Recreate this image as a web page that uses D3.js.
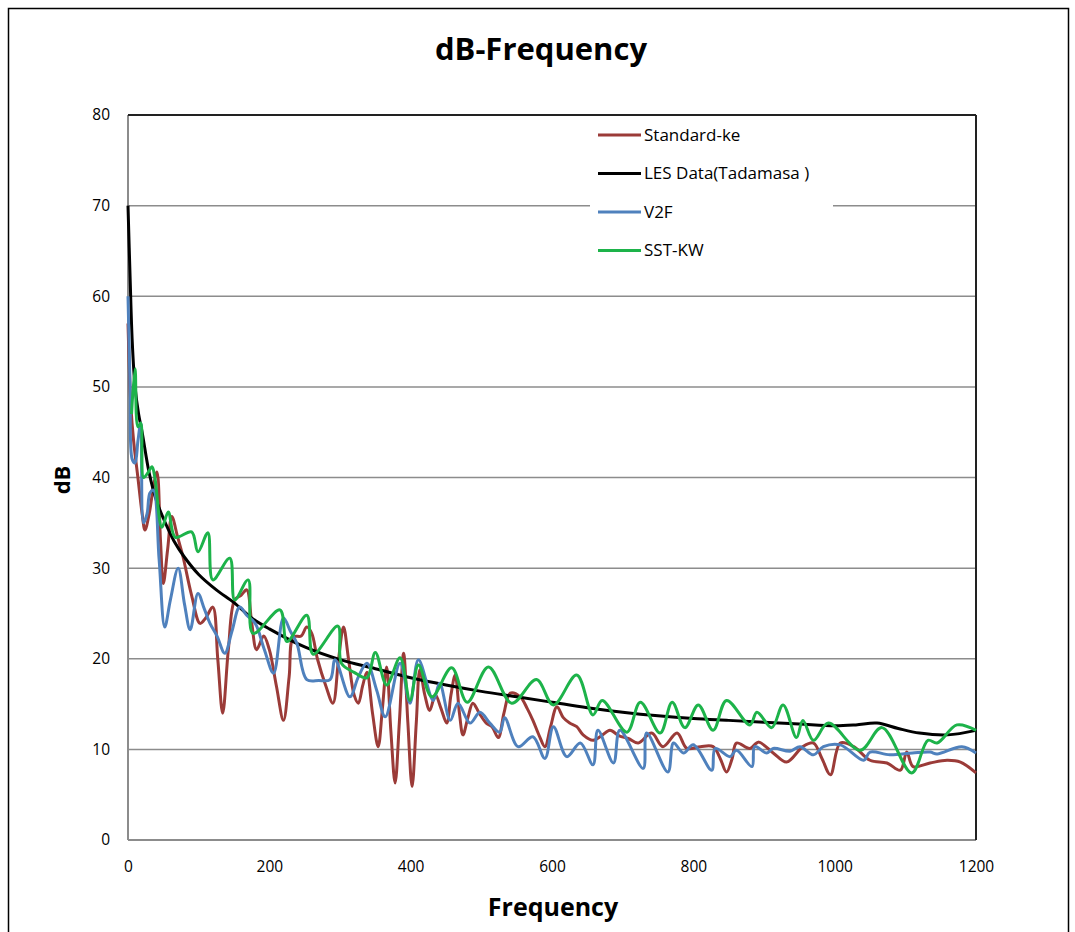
<!DOCTYPE html>
<html>
<head>
<meta charset="utf-8">
<script src="https://d3js.org/d3.v7.min.js"></script>
<style>
    body { margin: 0; background: #fff; }
    svg { display: block; font-family: "Open Sans", sans-serif; }
    .tick text { fill: #000; }
</style>
</head>
<body>
<script>
    // data: [frequency, dB]
    var seriesNames = ["Standard-ke", "LES Data(Tadamasa )", "V2F", "SST-KW"];
    var seriesColors = ["#9b3b38", "#000000", "#4f81bd", "#1db34a"];

    var xTicks = [0, 200, 400, 600, 800, 1000, 1200];
    var yTicks = [0, 10, 20, 30, 40, 50, 60, 70, 80];

    var standardKe = [[0,57],[4,48],[8,44],[14,40],[20,36],[24,34.2],[30,36],[36,39],[41,40.6],[46,33],[50,28.3],[56,32],[62,35.7],[70,33.5],[78,31.2],[90,27],[102,23.9],[110,24.5],[120,25.7],[127,20],[134,14],[142,21],[151,26.5],[160,27],[168,27.6],[175,24],[182,21],[192,22.5],[200,21],[210,17],[220,13.2],[228,18],[234,22.4],[245,22.5],[253,23.5],[260,22.8],[268,20],[280,17],[290,15.1],[298,20],[305,23.5],[312,20],[320,16],[326,15.1],[332,17],[338,18.5],[346,14],[354,10.3],[360,14.5],[366,19.1],[372,12],[378,6.3],[384,13],[390,20.6],[396,13],[402,5.9],[408,13],[413,18.8],[420,16],[427,14.3],[435,16],[443,14.5],[451,12.9],[457,16],[463,18.2],[469,14],[474,11.6],[481,13.5],[488,15.1],[497,14],[507,12.9],[515,12.5],[524,11.3],[532,14],[541,16.2],[555,15.8],[565,14.5],[573,13.2],[582,11.5],[590,10.3],[598,12.5],[607,14.7],[616,13.5],[625,12.9],[635,12.5],[644,11.6],[658,11],[670,11.5],[682,12.1],[695,11.5],[708,11.2],[722,10.7],[741,11.8],[757,10.3],[777,11.8],[791,10.1],[810,10.3],[828,10.3],[838,9],[847,7.5],[855,9],[861,10.7],[880,10.1],[892,10.8],[913,9.6],[932,8.6],[955,10.3],[970,10.7],[982,9],[994,7.2],[1008,10.7],[1027,10.3],[1050,8.8],[1074,8.5],[1093,7.7],[1102,9.7],[1111,8.1],[1135,8.5],[1159,8.8],[1178,8.6],[1200,7.4]];

    var lesData = [[0,70],[3,62],[6,55],[10,50],[15,47],[20,45],[30,40.5],[40,37.5],[50,35.5],[65,33],[80,31.2],[100,29.3],[125,27.6],[150,26.2],[175,24.5],[200,23.3],[250,21.3],[300,19.9],[350,18.9],[400,17.9],[450,17.1],[500,16.4],[550,15.8],[600,15.2],[650,14.6],[700,14.1],[750,13.7],[800,13.4],[850,13.2],[900,13],[950,12.8],[1000,12.6],[1030,12.7],[1060,12.9],[1090,12.3],[1120,11.8],[1160,11.6],[1200,12.1]];

    var v2f = [[0,60],[3,50],[6,42],[10,41.6],[14,44],[18,46],[22,35],[27,36],[31,38.3],[36,38.6],[44,31],[52,23.5],[60,26.5],[71,30],[80,26],[88,23.2],[99,27.2],[108,25.5],[116,23.9],[126,22.5],[137,20.6],[147,23],[158,25.7],[168,24.8],[180,23.9],[193,21],[206,18.4],[220,24.5],[230,23],[239,21.7],[253,17.7],[270,17.6],[286,17.7],[293,19.9],[314,15.8],[326,18],[338,19.5],[352,16.5],[364,13.6],[385,19.5],[399,15.1],[411,19.9],[432,15.4],[441,17.3],[456,13.2],[467,15.1],[484,12.9],[498,14.1],[512,12.9],[526,11.9],[533,13.5],[552,10.3],[573,11.4],[590,9],[602,12.5],[621,9.2],[640,10.7],[658,8.3],[665,12.1],[687,8.5],[696,12.1],[729,7.9],[734,11.8],[764,7.5],[772,10.7],[786,9.6],[800,10.5],[826,7.7],[831,10.1],[852,9.2],[861,9.9],[883,8.1],[887,10.3],[904,9.6],[913,10.1],[937,9.8],[951,10.3],[970,9.4],[984,10.3],[1008,10.5],[1041,8.8],[1050,9.7],[1078,9.4],[1110,9.6],[1135,9.7],[1145,9.5],[1180,10.3],[1200,9.6]];

    var sstKw = [[5,47],[10,52],[14,45.6],[18,46],[22,40],[28,40.5],[34,41.2],[38,40],[48,34.5],[57,36.2],[67,33.4],[90,34],[99,31.8],[113,33.9],[120,28.7],[144,31.1],[151,26.5],[170,28.7],[177,22.8],[215,25.4],[225,21.9],[253,24.8],[262,20.5],[297,23.6],[302,19.5],[320,18.5],[338,17.9],[350,20.7],[366,17.1],[385,20.1],[399,15.4],[411,19.3],[430,15.8],[458,19],[480,15.2],[510,19.1],[543,15.1],[578,17.7],[602,14.9],[635,18.2],[658,13.8],[671,15.4],[706,11.9],[725,15.2],[753,11.8],[770,15.2],[788,12.4],[807,14.9],[828,12.1],[847,15.4],[880,12.7],[890,14.1],[911,12.4],[927,14.9],[946,11.3],[955,13.2],[970,11],[991,12.9],[1036,9.9],[1067,12.4],[1109,7.4],[1132,11],[1145,10.7],[1173,12.7],[1200,12.1]];

    var allSeries = [standardKe, lesData, v2f, sstKw];

    var chartW = 1075, chartH = 932;
    var plotLeft = 128, plotRight = 976, plotTop = 115, plotBottom = 840;

    var svg = d3.select("body").append("svg")
        .attr("width", chartW)
        .attr("height", chartH);

    // outer chart frame
    svg.append("rect")
        .attr("x", 8.5).attr("y", 8.5)
        .attr("width", 1060).attr("height", 940)
        .attr("fill", "#fff")
        .attr("stroke", "#000")
        .attr("stroke-width", 1.5);

    var x = d3.scaleLinear().domain([0, 1200]).range([plotLeft, plotRight]);
    var y = d3.scaleLinear().domain([0, 80]).range([plotBottom, plotTop]);

    // gridlines
    svg.append("g")
        .selectAll("line")
        .data(yTicks.filter(function(d) { return d > 0 && d < 80; }))
        .enter().append("line")
        .attr("x1", plotLeft).attr("x2", plotRight)
        .attr("y1", function(d) { return y(d); })
        .attr("y2", function(d) { return y(d); })
        .attr("stroke", "#8c8c8c")
        .attr("stroke-width", 1.5);

    // axes (labels only)
    var xAxis = svg.append("g")
        .attr("transform", "translate(0," + plotBottom + ")")
        .call(d3.axisBottom(x).tickValues(xTicks).tickFormat(d3.format("d")).tickSize(0).tickPadding(21));
    var yAxis = svg.append("g")
        .attr("transform", "translate(" + plotLeft + ",0)")
        .call(d3.axisLeft(y).tickValues(yTicks).tickFormat(d3.format("d")).tickSize(0).tickPadding(18));
    [xAxis, yAxis].forEach(function(g) {
        g.select(".domain").remove();
        g.selectAll("text").attr("font-size", 15.5).attr("font-family", "Open Sans, sans-serif");
    });

    // plot area border
    svg.append("line").attr("x1", plotLeft).attr("x2", plotLeft).attr("y1", plotTop).attr("y2", plotBottom)
        .attr("stroke", "#8c8c8c").attr("stroke-width", 2);
    svg.append("line").attr("x1", plotLeft).attr("x2", plotRight).attr("y1", plotBottom).attr("y2", plotBottom)
        .attr("stroke", "#8c8c8c").attr("stroke-width", 2);
    svg.append("line").attr("x1", plotLeft).attr("x2", plotRight).attr("y1", plotTop).attr("y2", plotTop)
        .attr("stroke", "#222").attr("stroke-width", 2);
    svg.append("line").attr("x1", plotRight).attr("x2", plotRight).attr("y1", plotTop).attr("y2", plotBottom)
        .attr("stroke", "#222").attr("stroke-width", 2);

    // series
    var line = d3.line()
        .x(function(d) { return x(d[0]); })
        .y(function(d) { return y(d[1]); })
        .curve(d3.curveCatmullRom.alpha(0.5));

    svg.append("g")
        .selectAll("path")
        .data(allSeries)
        .enter().append("path")
        .attr("d", line)
        .attr("fill", "none")
        .attr("stroke", function(d, i) { return seriesColors[i]; })
        .attr("stroke-width", 3)
        .attr("stroke-linejoin", "round");

    // legend
    var legend = svg.append("g");
    legend.append("rect")
        .attr("x", 590).attr("y", 118)
        .attr("width", 243).attr("height", 152)
        .attr("fill", "#fff");
    var items = legend.selectAll("g")
        .data(seriesNames)
        .enter().append("g")
        .attr("transform", function(d, i) { return "translate(598," + (135 + i * 38.5) + ")"; });
    items.append("line")
        .attr("x1", 0).attr("x2", 43)
        .attr("stroke", function(d, i) { return seriesColors[i]; })
        .attr("stroke-width", 3);
    items.append("text")
        .attr("x", 46).attr("dy", "0.35em")
        .attr("font-size", 17)
        .text(function(d) { return d; });

    // titles
    svg.append("text")
        .attr("x", 541).attr("y", 60)
        .attr("text-anchor", "middle")
        .attr("font-size", 31).attr("font-weight", "bold")
        .text("dB-Frequency");
    svg.append("text")
        .attr("x", 553).attr("y", 916)
        .attr("text-anchor", "middle")
        .attr("font-size", 25).attr("font-weight", "bold")
        .text("Frequency");
    svg.append("text")
        .attr("transform", "translate(70,480) rotate(-90)")
        .attr("text-anchor", "middle")
        .attr("font-size", 22).attr("font-weight", "bold")
        .text("dB");
</script>
</body>
</html>
